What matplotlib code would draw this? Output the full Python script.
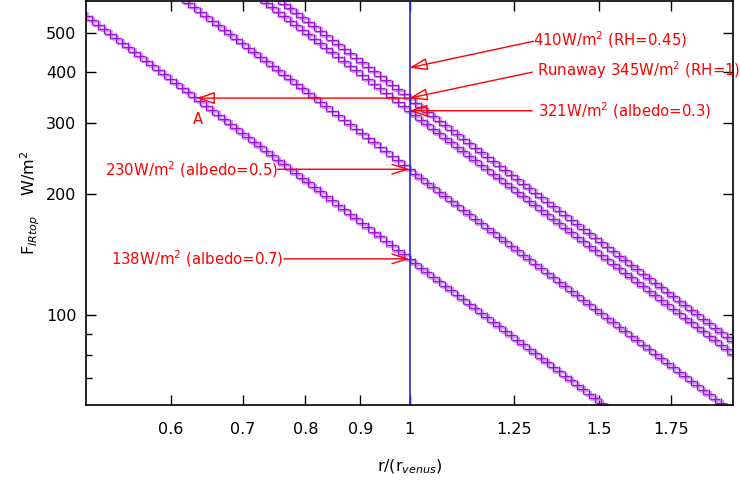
import numpy as np
import matplotlib.pyplot as plt
from matplotlib.ticker import FixedLocator, FixedFormatter, NullLocator

# fluxo no topo (W/m2) em r = r_venus para cada curva
fluxo_em_venus = [138, 230, 321, 345]

# pontos de r/r_venus (marcadores '+')
r_pontos = np.geomspace(0.5, 2.0, 109)

x_ticks = [0.6, 0.7, 0.8, 0.9, 1, 1.25, 1.5, 1.75]
x_tick_labels = ['0.6', '0.7', '0.8', '0.9', '1', '1.25', '1.5', '1.75']
y_ticks = [100, 200, 300, 400, 500]
y_minor = [70, 80, 90]

# anotacoes: (texto, posicao do texto, cauda da seta, ponta da seta, tipo da ponta)
anotacoes = [
    ('410W/m$^2$ (RH=0.45)', (1.304, 482), (1.304, 477), (1.0, 410), 'fechada'),
    ('Runaway 345W/m$^2$ (RH=1)', (1.315, 404), (1.301, 400), (1.0, 345), 'fechada'),
    ('321W/m$^2$ (albedo=0.3)', (1.318, 321), (1.301, 321), (1.0, 321), 'fechada'),
    ('', None, (1.0, 345), (0.634, 345), 'fechada'),
    ('230W/m$^2$ (albedo=0.5)', (0.5205, 230), (0.754, 230), (1.0, 230), 'aberta'),
    ('138W/m$^2$ (albedo=0.7)', (0.527, 138), (0.764, 138), (1.0, 138), 'aberta'),
]

plt.rcParams['font.family'] = ['DejaVu Sans']
fig = plt.figure(figsize=(7.4, 4.86), dpi=100)
ax = fig.add_axes([86 / 740, 81 / 486, 647 / 740, 404 / 486])

for f0 in fluxo_em_venus:
    ax.plot(r_pontos * 1.004, f0 / r_pontos**2 * 0.99, linestyle='none', marker='+',
            markersize=7, markeredgewidth=1.3, color='#cf9af2')
    ax.plot(r_pontos, f0 / r_pontos**2, linestyle='none', marker='+',
            markersize=7, markeredgewidth=1.0, color='#9a10dc')

ax.axvline(1.0, color='#2a2ae6', lw=1.2)

for texto, pos_texto, cauda, ponta, tipo in anotacoes:
    estilo = '-|>,head_length=1.1,head_width=0.38' if tipo == 'fechada' else '->,head_length=1.1,head_width=0.35'
    ax.annotate('', xy=ponta, xytext=cauda,
                arrowprops=dict(arrowstyle=estilo, color='red', fc='none', lw=1,
                                shrinkA=0, shrinkB=0))
    if texto:
        ax.text(pos_texto[0], pos_texto[1], texto, color='red', fontsize=10.7,
                ha='left', va='center')

ax.text(0.635, 306, 'A', color='red', fontsize=10.7, ha='center', va='center')

ax.set_xscale('log')
ax.set_yscale('log')
ax.set_xlim(0.5, 2.0)
ax.set_ylim(60, 600)

ax.xaxis.set_major_locator(FixedLocator(x_ticks))
ax.xaxis.set_major_formatter(FixedFormatter(x_tick_labels))
ax.xaxis.set_minor_locator(NullLocator())
ax.yaxis.set_major_locator(FixedLocator(y_ticks))
ax.yaxis.set_major_formatter(FixedFormatter([str(v) for v in y_ticks]))
ax.yaxis.set_minor_locator(FixedLocator(y_minor))
ax.yaxis.set_minor_formatter(FixedFormatter(['', '', '']))

ax.tick_params(which='both', direction='in', top=True, right=True, labelsize=11.5)
ax.tick_params(which='major', length=7, width=1)
ax.tick_params(which='minor', length=4, width=1)
ax.tick_params(axis='x', pad=12)
ax.tick_params(axis='y', pad=7)
for s in ax.spines.values():
    s.set_linewidth(1.2)

ax.set_xlabel('r/(r$_{venus}$)', fontsize=11.5)
ax.set_ylabel('F$_{IRtop}$    W/m$^2$', fontsize=11.5)
ax.xaxis.set_label_coords(0.5, -0.13)
ax.yaxis.set_label_coords(-0.068, 0.5)

fig.savefig('out.png', dpi=100)
